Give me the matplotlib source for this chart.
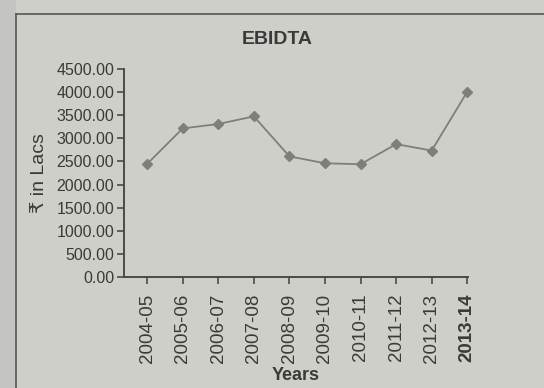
# EBIDTA Liniendiagramm (Nachbau eines Zeitungsausschnitts)
import numpy as np
import matplotlib
matplotlib.use('Agg')
import matplotlib.pyplot as plt
from matplotlib.patches import Rectangle
from matplotlib.lines import Line2D

# --------- Daten --------------
years = ['2004-05', '2005-06', '2006-07', '2007-08', '2008-09',
         '2009-10', '2010-11', '2011-12', '2012-13', '2013-14']
ebidta = [2445, 3215, 3310, 3475, 2610, 2460, 2440, 2875, 2735, 4010]
y_ticks = [0, 500, 1000, 1500, 2000, 2500, 3000, 3500, 4000, 4500]

# --------- Stil --------------
plt.rcParams['font.family'] = ['Liberation Sans Narrow', 'Liberation Sans', 'DejaVu Sans']
bg = '#cfcfca'
ink = '#3a3a3a'
line_col = '#7e7e7c'

fig = plt.figure(figsize=(5.44, 3.88), dpi=100, facecolor=bg)

# linker Streifen und Rahmen
fig.patches.append(Rectangle((0, 0), 16 / 544, 1, transform=fig.transFigure,
                             facecolor='#c4c4c0', edgecolor='none', zorder=0))
fig.lines.append(Line2D([16 / 544, 16 / 544], [0, 1 - 14 / 388], transform=fig.transFigure,
                        color='#555555', linewidth=1.2))
fig.lines.append(Line2D([16 / 544, 1], [1 - 14 / 388, 1 - 14 / 388], transform=fig.transFigure,
                        color='#555555', linewidth=1.2))

ax = fig.add_axes([124 / 544, 1 - 277 / 388, (468 - 124) / 544, (277 - 69) / 388])
ax.set_facecolor('none')

x = np.arange(len(years))
ax.plot(x, ebidta, color=line_col, linewidth=1.3, marker='D', markersize=5,
        markerfacecolor=line_col, markeredgecolor=line_col, clip_on=False)

ax.set_xlim(-0.65, 9.02)
ax.set_ylim(0, 4500)
ax.set_yticks(y_ticks)
ax.set_yticklabels([f'{v:.2f}' for v in y_ticks], fontsize=11.5, color=ink)
ax.set_xticks(x)
ax.set_xticklabels(years, rotation=90, fontsize=13.5, color=ink)
ax.get_xticklabels()[-1].set_fontweight('bold')

for s in ['top', 'right']:
    ax.spines[s].set_visible(False)
for s in ['left', 'bottom']:
    ax.spines[s].set_color('#4a4a4a')
    ax.spines[s].set_linewidth(1.4)
ax.tick_params(axis='both', colors='#4a4a4a', length=5, width=1.2, pad=2, labelcolor=ink)
ax.tick_params(axis='x', pad=7)

ax.set_ylabel('₹ in Lacs', fontsize=14, color=ink, labelpad=6)
ax.set_xlabel('Years', fontsize=13, fontweight='bold', color=ink, labelpad=3)
fig.text(277 / 544, 1 - 40 / 388, 'EBIDTA', ha='center', va='center',
         fontsize=14, fontweight='bold', color=ink)

fig.savefig('out.png', dpi=100, facecolor=bg)
